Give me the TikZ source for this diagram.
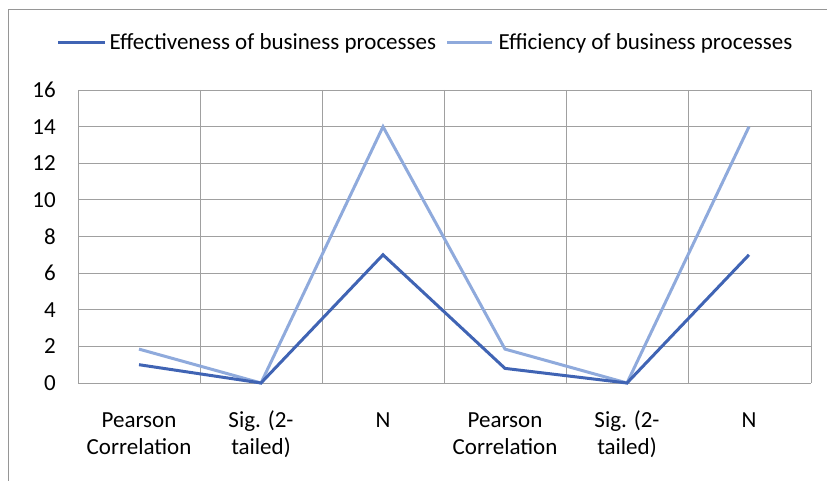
\documentclass[tikz,border=0pt]{standalone}
\usepackage{fontspec}
\setmainfont{Carlito}
\definecolor{effcol}{RGB}{64,100,180}
\definecolor{eficol}{RGB}{143,170,220}
\definecolor{gridcol}{RGB}{160,160,160}
\definecolor{framecol}{RGB}{150,150,150}

\begin{document}
\begin{tikzpicture}[x=1pt,y=1pt]
	\tikzstyle{every node}+=[inner sep=0pt, text=black, font=\fontsize{23}{27}\selectfont]
	\tikzset{series/.style={line width=3pt, line join=miter},
		catlabel/.style={align=center, anchor=north}}
	\useasboundingbox (0,0) rectangle (827,-481);
	% outer frame
	\draw [framecol, line width=1.2pt] (8.5,-481) -- (8.5,-9.5) -- (827,-9.5);
	% grid
	\foreach \v in {0,2,...,16} {
		\draw [gridcol, line width=1pt] (78,-383+\v*18.31) -- (811,-383+\v*18.31);
		\node (tick\v) [anchor=east] at (56,-383+\v*18.31) {\v};
	}
	\foreach \c in {78,200,322,444,566,688,811}
		\draw [gridcol, line width=1pt] (\c,-90) -- (\c,-383);
	% category labels
	\node (cat1) [catlabel] at (139,-408) {\strut Pearson\\Correlation};
	\node (cat2) [catlabel] at (261,-408) {\strut Sig. (2-\\tailed)};
	\node (cat3) [catlabel] at (383,-408) {\strut N};
	\node (cat4) [catlabel] at (505,-408) {\strut Pearson\\Correlation};
	\node (cat5) [catlabel] at (627,-408) {\strut Sig. (2-\\tailed)};
	\node (cat6) [catlabel] at (749,-408) {\strut N};
	% data points
	\coordinate (a1) at (139,-364.7);
	\coordinate (a2) at (261,-383);
	\coordinate (a3) at (383,-254.8);
	\coordinate (a4) at (505,-368.4);
	\coordinate (a5) at (627,-383);
	\coordinate (a6) at (749,-254.8);
	\coordinate (b1) at (139,-349.1);
	\coordinate (b2) at (261,-383);
	\coordinate (b3) at (383,-126.7);
	\coordinate (b4) at (505,-349.1);
	\coordinate (b5) at (627,-383);
	\coordinate (b6) at (749,-126.7);
	\draw [series, eficol] (b1) -- (b2) -- (b3) -- (b4) -- (b5) -- (b6);
	\draw [series, effcol] (a1) -- (a2) -- (a3) -- (a4) -- (a5) -- (a6);
	% legend
	\coordinate (la) at (58,-43);
	\coordinate (lb) at (447,-43);
	\draw [series, effcol] (la) -- ++(47,0) node (leg1) [anchor=west, xshift=3pt] {Effectiveness of business processes};
	\draw [series, eficol] (lb) -- ++(45,0) node (leg2) [anchor=west, xshift=5pt] {Efficiency of business processes};
\end{tikzpicture}
\end{document}
